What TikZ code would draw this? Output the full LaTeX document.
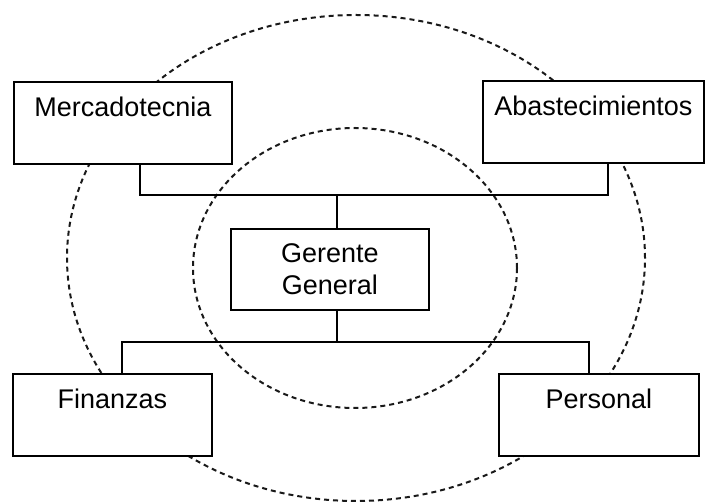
\documentclass[tikz,border=0pt]{standalone}
\usepackage{fontspec}
\setmainfont{Liberation Sans}
\begin{document}
\begin{tikzpicture}[x=1pt,y=-1pt,
  orgbox/.style={draw=black, line width=1.7pt, fill=white, rectangle, anchor=north west,
    inner xsep=0pt, inner ysep=0pt, text height=35pt, text depth=47pt,
    font=\fontsize{27}{32}\selectfont},
  ctrbox/.style={draw=black, line width=1.7pt, fill=white, rectangle, anchor=north west,
    inner sep=0pt, align=center, font=\fontsize{27}{32}\selectfont},
  conn/.style={draw=black, line width=1.3pt},
  ring/.style={draw=black!90, line width=2pt, dash pattern=on 5pt off 4pt}]
  \useasboundingbox (0,0) rectangle (710,502);

  % dashed rings around the head office
  \draw[ring] (356,258) ellipse [x radius=289pt, y radius=243pt];
  \draw[ring] (355,268) ellipse [x radius=162pt, y radius=140pt];

  % departments
  \node[orgbox, minimum width=218pt] (merc) at (13,81) {Mercadotecnia};
  \node[orgbox, minimum width=221pt] (abas) at (482,80) {Abastecimientos};
  \node[orgbox, minimum width=199pt] (fin) at (12,373) {Finanzas};
  \node[orgbox, minimum width=200pt] (per) at (498,373) {Personal};
  \node[ctrbox, minimum width=198pt, minimum height=81pt] (ger) at (230,228) {Gerente\\General};

  % bus junctions
  \coordinate (tl) at (140,195);
  \coordinate (tm) at (337,195);
  \coordinate (tr) at (608,195);
  \coordinate (bl) at (122,342);
  \coordinate (bm) at (337,342);
  \coordinate (br) at (589,342);

  % connectors
  \draw[conn] (merc.south -| tl) -- (tl) -- (tr) -- (abas.south -| tr);
  \draw[conn] (tm) -- (ger.north -| tm);
  \draw[conn] (ger.south -| bm) -- (bm);
  \draw[conn] (fin.north -| bl) -- (bl) -- (br) -- (per.north -| br);
\end{tikzpicture}
\end{document}
